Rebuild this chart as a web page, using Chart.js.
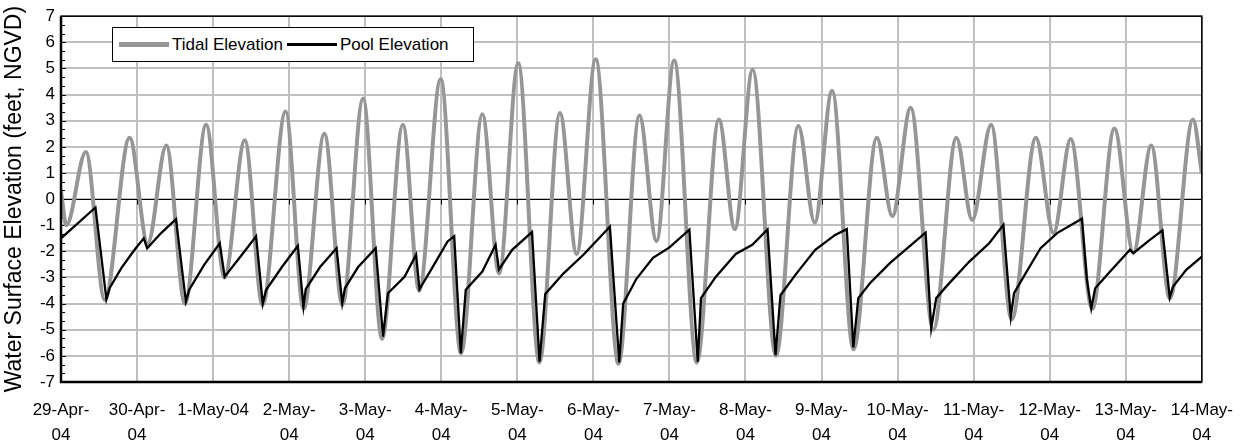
<!DOCTYPE html>
<html>
<head>
<meta charset="utf-8">
<title>Tidal and Pool Elevation</title>
<script src="https://cdn.jsdelivr.net/npm/chart.js@4.4.1/dist/chart.umd.min.js"></script>
<style>
  body { margin: 0; background: #fff; }
  #wrap { position: relative; width: 1249px; height: 448px; }
  #legend {
    position: absolute; left: 112px; top: 27px; width: 354px; height: 33px;
    border: 1px solid #000; background: #fff;
    font: 17px "Liberation Sans", Arial, sans-serif; color: #000;
    display: flex; align-items: center; padding-left: 6px; box-sizing: content-box;
  }
  #legend .item { display: flex; align-items: center; margin-right: 4px; }
  #legend .swatch { display: inline-block; width: 50px; margin-right: 3px; }
</style>
</head>
<body>
<div id="wrap">
  <canvas id="elevChart" width="1249" height="448"></canvas>
  <div id="legend"></div>
</div>
<script>
// days since 29-Apr-04 00:00, one tick per day
const dayLabels = [
  ["29-Apr-", "04"], ["30-Apr-", "04"], "1-May-04", ["2-May-", "04"],
  ["3-May-", "04"], ["4-May-", "04"], ["5-May-", "04"], ["6-May-", "04"],
  ["7-May-", "04"], ["8-May-", "04"], ["9-May-", "04"], ["10-May-", "04"],
  ["11-May-", "04"], ["12-May-", "04"], ["13-May-", "04"], ["14-May-", "04"]
];

// tide highs and lows (feet, NGVD)
const tideDays = [0, 0.07, 0.327, 0.575, 0.902, 1.14, 1.385, 1.63, 1.908, 2.15,
  2.417, 2.65, 2.953, 3.19, 3.463, 3.70, 3.972, 4.22, 4.495, 4.71,
  4.992, 5.26, 5.54, 5.76, 6.011, 6.29, 6.56, 6.78, 7.03, 7.33,
  7.605, 7.83, 8.062, 8.36, 8.65, 8.86, 9.094, 9.40, 9.695, 9.91,
  10.139, 10.42, 10.727, 10.93, 11.172, 11.47, 11.773, 11.98, 12.23, 12.50,
  12.818, 13.05, 13.276, 13.56, 13.851, 14.10, 14.335, 14.58, 14.884, 15];
const tideFeet = [0.3, -1.0, 1.8, -3.85, 2.35, -1.7, 2.05, -4.0, 2.85, -3.0,
  2.25, -4.05, 3.35, -4.2, 2.5, -4.05, 3.85, -5.35, 2.85, -3.5,
  4.6, -5.9, 3.25, -2.85, 5.2, -6.25, 3.3, -2.1, 5.35, -6.3,
  3.2, -1.6, 5.3, -6.25, 3.05, -1.15, 4.95, -6.0, 2.8, -0.9,
  4.15, -5.75, 2.35, -0.65, 3.5, -5.0, 2.35, -0.8, 2.85, -4.6,
  2.35, -1.3, 2.3, -4.2, 2.7, -2.05, 2.05, -3.8, 3.05, 1.0];

// pool stage behind the gate (feet, NGVD)
const poolDays = [0, 0.453, 0.597, 0.640, 0.793, 0.967, 1.088, 1.133, 1.316, 1.512,
  1.642, 1.686, 1.882, 2.087, 2.152, 2.361, 2.565, 2.653, 2.696, 2.905,
  3.114, 3.188, 3.218, 3.406, 3.623, 3.698, 3.733, 3.907, 4.138, 4.234,
  4.299, 4.517, 4.669, 4.713, 4.865, 5.083, 5.170, 5.257, 5.322, 5.540,
  5.714, 5.758, 5.932, 6.193, 6.292, 6.367, 6.608, 6.869, 7.217, 7.340,
  7.392, 7.566, 7.784, 8.001, 8.262, 8.372, 8.415, 8.611, 8.872, 9.090,
  9.290, 9.395, 9.460, 9.656, 9.917, 10.179, 10.332, 10.418, 10.483, 10.636,
  10.898, 11.202, 11.368, 11.442, 11.508, 11.638, 11.943, 12.204, 12.391, 12.488,
  12.531, 12.701, 12.880, 13.097, 13.424, 13.489, 13.546, 13.598, 13.794, 14.056,
  14.099, 14.317, 14.482, 14.578, 14.622, 14.795, 15];
const poolFeet = [-1.5, -0.32, -3.83, -3.4, -2.64, -1.94, -1.5, -1.88, -1.3, -0.77,
  -3.92, -3.47, -2.52, -1.69, -2.97, -2.2, -1.42, -4.0, -3.48, -2.6,
  -1.79, -4.11, -3.45, -2.6, -1.88, -3.98, -3.41, -2.6, -1.88, -5.26,
  -3.6, -2.97, -2.13, -3.45, -2.71, -1.62, -1.42, -5.9, -3.47, -2.77,
  -1.75, -2.7, -1.94, -1.26, -6.22, -3.63, -2.84, -2.13, -1.06, -6.25,
  -4.0, -3.05, -2.25, -1.85, -1.17, -6.22, -3.79, -2.97, -2.1, -1.75,
  -1.16, -5.97, -3.68, -2.9, -1.94, -1.37, -1.15, -5.68, -3.79, -3.22,
  -2.45, -1.69, -1.28, -4.94, -3.79, -3.35, -2.39, -1.69, -0.98, -4.5,
  -3.6, -2.75, -1.88, -1.3, -0.75, -3.09, -4.18, -3.41, -2.77, -1.94,
  -2.07, -1.56, -1.2, -3.76, -3.35, -2.71, -2.2];

const toPoints = (xs, ys) => xs.map((d, i) => ({ x: d, y: ys[i] }));

Chart.defaults.font.family = '"Liberation Sans", Arial, sans-serif';
Chart.defaults.color = "#000";

// zero line with day ticks, inner ticks on the value axis, plot frame
const plotFrame = {
  id: "plotFrame",
  beforeDatasetsDraw(chart) {
    const { ctx, chartArea: a, scales: { x, y } } = chart;
    const y0 = Math.round(y.getPixelForValue(0)) + 0.5;
    ctx.save();
    ctx.strokeStyle = "#000";
    ctx.lineWidth = 1;
    ctx.beginPath();
    ctx.moveTo(a.left, y0);
    ctx.lineTo(a.right, y0);
    for (let d = 1; d < 15; d++) {
      const px = Math.round(x.getPixelForValue(d)) + 0.5;
      ctx.moveTo(px, y0);
      ctx.lineTo(px, y0 + 5);
    }
    for (let i = -21; i <= 21; i++) {
      const py = Math.round(y.getPixelForValue(i / 3)) + 0.5;
      ctx.moveTo(a.left, py);
      ctx.lineTo(a.left + (i % 3 === 0 ? 5 : 4), py);
    }
    ctx.stroke();
    ctx.restore();
  },
  afterDatasetsDraw(chart) {
    const { ctx, chartArea: a } = chart;
    ctx.save();
    ctx.strokeStyle = "#000";
    ctx.lineWidth = 1.5;
    ctx.strokeRect(a.left, a.top, a.right - a.left, a.bottom - a.top);
    ctx.lineWidth = 2.5;
    ctx.beginPath();
    ctx.moveTo(a.left, a.top);
    ctx.lineTo(a.left, a.bottom);
    ctx.lineTo(a.right, a.bottom);
    ctx.stroke();
    ctx.restore();
  }
};

const ctx = document.getElementById("elevChart").getContext("2d");
const elevChart = new Chart(ctx, {
  type: "line",
  data: {
    datasets: [
      {
        label: "Tidal Elevation",
        data: toPoints(tideDays, tideFeet),
        borderColor: "#969696",
        borderWidth: 4,
        cubicInterpolationMode: "monotone",
        pointRadius: 0,
        order: 2
      },
      {
        label: "Pool Elevation",
        data: toPoints(poolDays, poolFeet),
        borderColor: "#000",
        borderWidth: 2.3,
        tension: 0,
        pointRadius: 0,
        order: 1
      }
    ]
  },
  options: {
    responsive: false,
    devicePixelRatio: 1,
    animation: false,
    layout: { padding: { top: 14, right: 40, left: 0, bottom: 0 } },
    plugins: { legend: { display: false }, tooltip: { enabled: false } },
    scales: {
      x: {
        type: "linear",
        min: 0,
        max: 15,
        grid: { color: "#c0c0c0", lineWidth: 2, drawTicks: false },
        border: { display: false },
        ticks: {
          stepSize: 1,
          autoSkip: false,
          maxRotation: 0,
          padding: 16,
          font: { size: 17, lineHeight: 1.47 },
          callback: (v) => dayLabels[v]
        },
        afterFit: (scale) => { scale.height = 66; }
      },
      y: {
        min: -7,
        max: 7,
        grid: { color: "#c0c0c0", lineWidth: 2, drawTicks: false },
        border: { display: false },
        ticks: { stepSize: 1, padding: 6, font: { size: 17 } },
        title: {
          display: true,
          text: "Water Surface Elevation (feet, NGVD)",
          font: { size: 23 },
          padding: { top: 1, bottom: 0 }
        },
        afterFit: (scale) => { scale.width = 61; }
      }
    }
  },
  plugins: [plotFrame]
});

// legend built from the datasets
const legend = document.getElementById("legend");
elevChart.data.datasets.forEach((ds) => {
  const item = document.createElement("span");
  item.className = "item";
  const swatch = document.createElement("span");
  swatch.className = "swatch";
  swatch.style.height = Math.round(ds.borderWidth) + 1 + "px";
  swatch.style.background = ds.borderColor;
  item.appendChild(swatch);
  item.appendChild(document.createTextNode(ds.label));
  legend.appendChild(item);
});
</script>
</body>
</html>
